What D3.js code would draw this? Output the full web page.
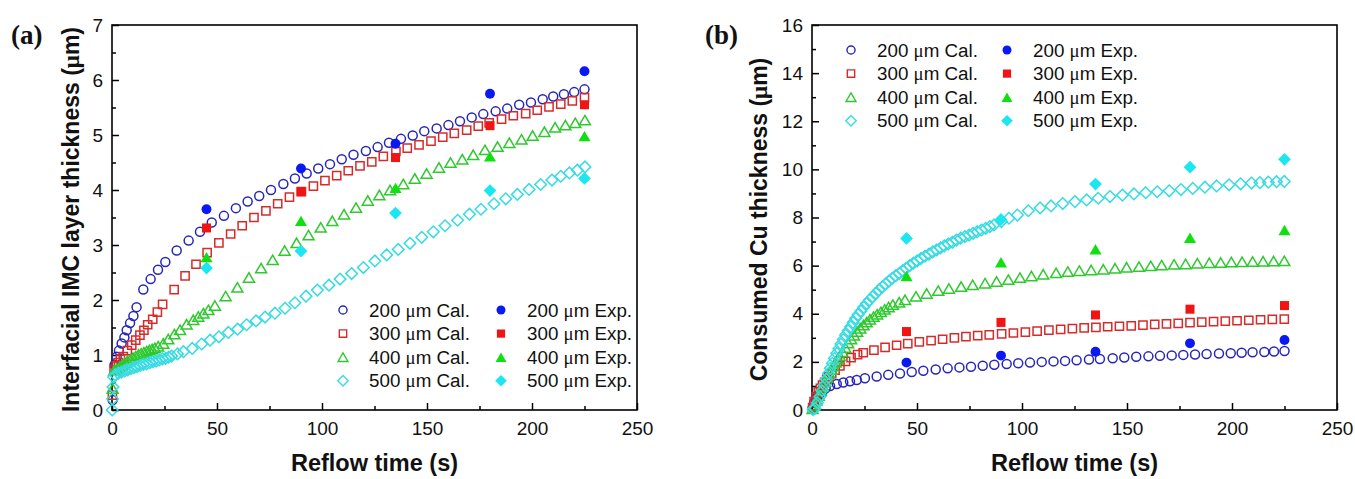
<!DOCTYPE html>
<html>
<head>
<meta charset="utf-8">
<script src="https://cdn.jsdelivr.net/npm/d3@7"></script>
<style>
  body { margin: 0; background: #fff; }
  svg { display: block; }
</style>
</head>
<body>
<svg id="fig" width="1355" height="479"></svg>
<script>
// ---- Axis ticks ----
const timeTicks = [0, 50, 100, 150, 200, 250];
const timeMinorTicks = [25, 75, 125, 175, 225];
const imcTicks = [0, 1, 2, 3, 4, 5, 6, 7];
const imcMinorTicks = [0.5, 1.5, 2.5, 3.5, 4.5, 5.5, 6.5];
const cuTicks = [0, 2, 4, 6, 8, 10, 12, 14, 16];
const cuMinorTicks = [1, 3, 5, 7, 9, 11, 13, 15];

// ---- Pad sizes ----
const padSizes = ["200", "300", "400", "500"];

// ---- Experimental reflow times (s) ----
const expTimes = [45, 90, 135, 180, 225];

// ---- (a) Interfacial IMC layer thickness (um), experiment ----
const imc200Exp = [3.65, 4.39, 4.84, 5.75, 6.16];
const imc300Exp = [3.31, 3.97, 4.59, 5.17, 5.55];
const imc400Exp = [2.78, 3.44, 4.04, 4.61, 4.98];
const imc500Exp = [2.58, 2.89, 3.58, 3.99, 4.21];

// ---- (a) Interfacial IMC layer thickness, calculation [time (s), thickness (um)] ----
const imc200Cal = [[0.3,0.18],[1.2,0.82],[2.2,0.97],[3.3,1.08],[4.6,1.21],[5.9,1.32],[7.0,1.45],[8.6,1.58],[10.2,1.71],[11.7,1.87],
  [14.9,2.19],[18.4,2.38],[21.9,2.55],[25.4,2.69],[30.8,2.9],[36.5,3.08],[41.9,3.24],[47.5,3.41],[53.3,3.53],[59,3.67],
  [64.6,3.79],[70.1,3.89],[75.7,4.0],[81.6,4.11],[87.1,4.21],[92.7,4.30],[98.2,4.39],[103.8,4.47],[109.4,4.56],[115,4.64],
  [120.9,4.71],[126.5,4.78],[131.9,4.86],[137.6,4.93],[143.2,4.99],[148.7,5.07],[154.6,5.12],[160.2,5.18],[165.7,5.25],[171.3,5.32],
  [176.8,5.38],[182.7,5.43],[188.2,5.48],[193.9,5.55],[199.5,5.59],[205.1,5.65],[210.1,5.70],[215.2,5.74],[220.1,5.78],[225,5.83]];
const imc300Cal = [[0.2,0.27],[1.0,0.72],[2.0,0.80],[3.0,0.86],[4.0,0.92],[5.4,0.97],[7.3,1.08],[9.4,1.18],[11.3,1.27],[13.3,1.36],
  [15.2,1.45],[17.0,1.55],[19.4,1.65],[21.6,1.78],[24.1,1.92],[29.6,2.19],[34.8,2.44],[40.0,2.65],[45.3,2.86],[50.9,3.04],
  [56.5,3.2],[62,3.35],[67.6,3.5],[73.3,3.62],[78.9,3.75],[84.5,3.87],[90.2,3.97],[95.9,4.07],[101.4,4.17],[107,4.26],
  [112.5,4.35],[118.1,4.44],[123.7,4.51],[129.2,4.61],[135.2,4.70],[140.6,4.76],[146.2,4.82],[151.9,4.89],[157.5,4.96],[163,5.03],
  [168.9,5.09],[174.4,5.16],[179.6,5.22],[185.5,5.29],[191.1,5.35],[197,5.39],[202.5,5.45],[208.1,5.51],[213.7,5.56],[219.2,5.62],[225,5.68]];
const imc400Cal = [[0.3,0.39],[1.0,0.72],[2.2,0.75],[3.5,0.78],[4.8,0.82],[6.1,0.86],[7.4,0.89],[8.7,0.92],[10,0.95],[11.3,0.98],
  [12.6,1.01],[13.9,1.03],[15.2,1.05],[16.5,1.07],[17.8,1.09],[19.1,1.11],[20.4,1.13],[22,1.16],[24.4,1.21],[26.8,1.29],
  [29.7,1.38],[32.4,1.46],[35.5,1.56],[38.7,1.64],[41.1,1.70],[43.5,1.76],[45.9,1.82],[49,1.90],[54.1,2.07],[59.7,2.23],
  [65.2,2.41],[71,2.58],[76.5,2.73],[82.2,2.90],[87.9,3.04],[93.6,3.18],[99.4,3.32],[104.9,3.44],[110.5,3.56],[116.2,3.68],
  [121.8,3.81],[127.3,3.91],[132.4,4.0],[138.7,4.11],[144.2,4.21],[149.8,4.30],[155.7,4.41],[161.2,4.50],[166.8,4.56],[172,4.64],
  [177.6,4.73],[183.6,4.79],[189.2,4.86],[195,4.92],[200.3,4.99],[205.9,5.06],[211,5.14],[215.9,5.18],[220.6,5.22],[225.2,5.27]];
const imc500Cal = [[0.1,0.0],[0.3,0.2],[0.5,0.42],[0.8,0.6],[1.5,0.64],[3,0.67],[4.5,0.69],[6,0.71],[7.5,0.73],[9,0.75],
  [10.5,0.77],[12,0.79],[13.5,0.81],[15,0.83],[16.5,0.84],[18,0.86],[19.5,0.88],[21,0.89],[22.5,0.91],[24,0.93],
  [25.5,0.94],[27,0.96],[28.4,0.98],[31.2,1.02],[34,1.06],[38.2,1.12],[42.7,1.20],[46.7,1.27],[50.9,1.33],[55.4,1.41],
  [59.8,1.47],[64.1,1.55],[68.6,1.62],[72.9,1.69],[77.6,1.76],[82.4,1.85],[87.1,1.95],[92.4,2.07],[97.8,2.18],[103.3,2.27],
  [108.6,2.38],[114.1,2.48],[119.7,2.59],[125.2,2.71],[130.8,2.82],[136.3,2.92],[141.9,3.03],[147.5,3.14],[153,3.24],[158.6,3.35],
  [164.6,3.45],[170.2,3.56],[175.7,3.65],[181.9,3.75],[187.5,3.84],[193,3.92],[198.6,4.01],[204.1,4.10],[209.5,4.18],[213.7,4.25],
  [217.8,4.31],[221.6,4.36],[225.2,4.42]];

// ---- (b) Consumed Cu thickness (um), experiment ----
const cu200Exp = [1.97, 2.26, 2.42, 2.77, 2.91];
const cu300Exp = [3.26, 3.64, 3.95, 4.19, 4.34];
const cu400Exp = [5.57, 6.14, 6.68, 7.16, 7.48];
const cu500Exp = [7.13, 7.92, 9.39, 10.09, 10.42];

// ---- (b) Consumed Cu thickness, calculation [time (s), thickness (um)] ----
const cu200Cal = [[0.3,0.1],[1,0.3],[1.8,0.45],[2.8,0.58],[3.8,0.69],[5.1,0.8],[6.5,0.9],[8.6,1.0],[11.8,1.08],[14.9,1.14],
  [18.1,1.19],[21.3,1.25],[25.2,1.32],[30.8,1.39],[36.3,1.46],[41.9,1.52],[47.5,1.58],[53,1.63],[58.9,1.68],[64.6,1.73],
  [70.2,1.77],[75.7,1.8],[81.3,1.84],[86.8,1.88],[92.7,1.91],[98.2,1.94],[103.8,1.97],[109.4,2.0],[115,2.02],[120.5,2.04],
  [126,2.07],[131.9,2.1],[137.1,2.12],[143.2,2.15],[148.7,2.18],[154.4,2.21],[160.2,2.23],[165.7,2.25],[171.3,2.27],[176.8,2.29],
  [182.4,2.31],[187.9,2.33],[193.8,2.35],[199.4,2.36],[204.6,2.38],[209.8,2.40],[215.4,2.41],[220,2.43],[225,2.45]];
const cu300Cal = [[0.3,0.1],[1,0.35],[2,0.55],[3,0.75],[4,0.9],[5,1.03],[6,1.15],[7,1.27],[8,1.38],[9.4,1.52],
  [11,1.66],[13.3,1.83],[16,2.02],[18.6,2.18],[21.7,2.3],[24.4,2.38],[29.5,2.49],[34.8,2.6],[40.3,2.69],[45.6,2.76],
  [51.1,2.83],[56.7,2.88],[62.2,2.94],[67.8,3.0],[73.3,3.05],[78.9,3.09],[84.4,3.12],[90.3,3.16],[95.9,3.2],[101.6,3.24],
  [107.2,3.28],[112.8,3.32],[118.4,3.35],[124,3.38],[129.6,3.41],[135.2,3.43],[140.8,3.46],[146.4,3.48],[152,3.5],[157.6,3.53],
  [163.2,3.56],[168.8,3.58],[174.4,3.6],[180,3.63],[185.6,3.65],[191.2,3.67],[196.8,3.69],[202.4,3.71],[208,3.73],[213.6,3.75],
  [219.2,3.77],[224.9,3.78]];
const cu400Cal = [[0.3,0.05],[1.2,0.2],[2.2,0.4],[3.2,0.6],[4.2,0.8],[5.2,1.0],[6.2,1.18],[7.2,1.36],[8.2,1.52],[9.2,1.68],
  [10.2,1.83],[11.2,1.98],[12.2,2.12],[13.2,2.25],[14.5,2.42],[15.8,2.6],[17.2,2.78],[18.6,2.95],[20,3.1],[21.5,3.26],
  [23,3.4],[24.5,3.53],[26,3.65],[27.6,3.77],[29.3,3.88],[31,3.98],[32.8,4.08],[34.6,4.18],[36.5,4.28],[38.5,4.38],
  [41.5,4.48],[44.3,4.58],[49.5,4.72],[54.6,4.84],[60.1,4.96],[65.2,5.05],[71,5.13],[76.5,5.2],[82.4,5.27],[87.9,5.34],
  [93.5,5.42],[99,5.5],[104.5,5.57],[110.1,5.64],[116.2,5.7],[121.8,5.75],[127.3,5.79],[132.9,5.82],[138.7,5.85],[144.3,5.89],
  [149.8,5.93],[155.7,5.96],[161.3,5.99],[166.5,6.02],[172.4,6.05],[177.9,6.07],[183.5,6.1],[189.2,6.12],[194.6,6.13],[199.7,6.15],
  [204.8,6.16],[209.8,6.17],[214.8,6.18],[219.8,6.19],[224.9,6.2]];
const cu500Cal = [[0.5,0.02],[1.4,0.07],[2.6,0.3],[3.8,0.55],[4.8,0.8],[5.9,1.04],[6.8,1.28],[7.8,1.52],[8.7,1.73],[9.7,1.94],
  [10.7,2.15],[11.8,2.36],[12.8,2.55],[13.8,2.74],[14.9,2.93],[16,3.12],[17.2,3.29],[18.4,3.46],[19.6,3.64],[20.8,3.81],
  [22,3.96],[23.3,4.11],[24.6,4.27],[26,4.43],[27.4,4.57],[28.9,4.71],[30.4,4.85],[31.9,4.99],[33.5,5.12],[35.1,5.24],
  [36.6,5.36],[38.2,5.47],[39.9,5.58],[41.6,5.68],[43.2,5.79],[44.8,5.89],[46.5,6.0],[48.3,6.1],[50.1,6.2],[51.9,6.3],
  [53.8,6.39],[55.7,6.48],[57.5,6.57],[59.4,6.65],[61.2,6.74],[63,6.82],[64.9,6.9],[66.8,6.97],[68.8,7.06],[70.8,7.14],
  [72.8,7.21],[74.8,7.27],[76.7,7.34],[78.7,7.41],[80.7,7.48],[82.7,7.55],[84.7,7.62],[86.7,7.69],[90.2,7.83],[93.8,7.97],
  [97.8,8.1],[103,8.28],[108.6,8.4],[113.8,8.48],[119.4,8.58],[125.2,8.66],[130.8,8.73],[136.3,8.8],[141.9,8.87],[147.8,8.93],
  [153.3,8.98],[158.9,9.03],[164.4,9.07],[170.1,9.11],[175.7,9.16],[181.3,9.21],[187.1,9.26],[192.7,9.31],[198.6,9.36],[204.1,9.4],
  [209.3,9.43],[213.3,9.45],[217.3,9.47],[221.2,9.49],[224.9,9.5]];

// ---- Styling ----
const SANS = "'Liberation Sans', Arial, Helvetica, sans-serif";
const SERIF = "'Liberation Serif', 'Times New Roman', serif";
const hollowColors = ["#2626b8", "#d62b2b", "#2fc92f", "#38dbe2"];
const solidColors = ["#0a18f2", "#f01414", "#10e010", "#1ce6f0"];
const shapeKinds = ["circle", "square", "triangle", "diamond"];

// Marker outline for a given shape; s = scale factor (1 = open marker size)
function markerPath(kind, s) {
  const p = d3.path();
  if (kind === "circle") {
    const r = 4.5 * s; p.moveTo(r, 0); p.arc(0, 0, r, 0, 2 * Math.PI);
  } else if (kind === "square") {
    const h = 4.1 * s; p.rect(-h, -h, 2 * h, 2 * h);
  } else if (kind === "triangle") {
    const w = 5.5 * s, h = 4.7 * s;
    p.moveTo(0, -h); p.lineTo(w, h); p.lineTo(-w, h); p.closePath();
  } else {
    const d = 5.8 * s;
    p.moveTo(0, -d); p.lineTo(d, 0); p.lineTo(0, d); p.lineTo(-d, 0); p.closePath();
  }
  return p.toString();
}

const svg = d3.select("#fig");
svg.append("rect").attr("width", 1355).attr("height", 479).attr("fill", "#fff");

function umText(sel, before, after) {
  sel.append("tspan").text(before);
  sel.append("tspan").attr("font-family", SERIF).text("\u03bc");
  sel.append("tspan").text(after);
}

function drawPanel(cfg) {
  const x = d3.scaleLinear().domain([0, 250]).range([cfg.left, cfg.right]);
  const y = d3.scaleLinear().domain([0, cfg.yMax]).range([cfg.bottom, cfg.top]);
  const g = svg.append("g");

  const styleAxis = (ax) => {
    ax.select(".domain").remove();
    ax.selectAll(".tick line").attr("stroke", "#000").attr("stroke-width", 1.5);
    ax.selectAll(".tick text").attr("font-family", SANS).attr("font-size", "19px").attr("fill", "#111");
  };

  // bottom axis: major + minor ticks pointing inward
  g.append("g").attr("transform", `translate(0,${cfg.bottom})`)
    .call(d3.axisBottom(x).tickValues(timeMinorTicks).tickSizeInner(-4).tickSizeOuter(0).tickFormat(""))
    .call(styleAxis);
  g.append("g").attr("transform", `translate(0,${cfg.bottom})`)
    .call(d3.axisBottom(x).tickValues(timeTicks).tickSizeInner(-7).tickSizeOuter(0).tickPadding(11.5).tickFormat(d3.format("d")))
    .call(styleAxis);

  // left axis
  g.append("g").attr("transform", `translate(${cfg.left},0)`)
    .call(d3.axisLeft(y).tickValues(cfg.yMinor).tickSizeInner(-4).tickSizeOuter(0).tickFormat(""))
    .call(styleAxis);
  g.append("g").attr("transform", `translate(${cfg.left},0)`)
    .call(d3.axisLeft(y).tickValues(cfg.yMajor).tickSizeInner(-7).tickSizeOuter(0).tickPadding(9).tickFormat(d3.format("d")))
    .call(styleAxis);

  // frame
  g.append("rect")
    .attr("x", cfg.left).attr("y", cfg.top)
    .attr("width", cfg.right - cfg.left).attr("height", cfg.bottom - cfg.top)
    .attr("fill", "none").attr("stroke", "#000").attr("stroke-width", 1.6);

  // calculated series (open markers)
  cfg.cal.forEach((series, i) => {
    g.append("g").selectAll("path").data(series).join("path")
      .attr("d", markerPath(shapeKinds[i], 1))
      .attr("transform", d => `translate(${x(d[0])},${y(d[1])})`)
      .attr("fill", "none").attr("stroke", hollowColors[i]).attr("stroke-width", 1.5);
  });

  // experimental series (filled markers)
  cfg.exp.forEach((series, i) => {
    g.append("g").selectAll("path").data(series).join("path")
      .attr("d", markerPath(shapeKinds[i], 1.1))
      .attr("transform", (d, j) => `translate(${x(expTimes[j])},${y(d)})`)
      .attr("fill", solidColors[i]).attr("stroke", "none");
  });

  // legend
  padSizes.forEach((size, i) => {
    const ry = cfg.legY + i * 23.6;
    g.append("path").attr("d", markerPath(shapeKinds[i], 0.9))
      .attr("transform", `translate(${cfg.legCalX},${ry})`)
      .attr("fill", "none").attr("stroke", hollowColors[i]).attr("stroke-width", 1.4);
    g.append("text").attr("x", cfg.legCalX + 26).attr("y", ry + 6.5)
      .attr("font-family", SANS).attr("font-size", "18.8px").attr("fill", "#111")
      .call(umText, `${size} `, "m Cal.");
    g.append("path").attr("d", markerPath(shapeKinds[i], 1.0))
      .attr("transform", `translate(${cfg.legExpX},${ry})`)
      .attr("fill", solidColors[i]);
    g.append("text").attr("x", cfg.legExpX + 26).attr("y", ry + 6.5)
      .attr("font-family", SANS).attr("font-size", "18.8px").attr("fill", "#111")
      .call(umText, `${size} `, "m Exp.");
  });

  // axis titles
  g.append("text")
    .attr("x", (cfg.left + cfg.right) / 2).attr("y", 471)
    .attr("text-anchor", "middle")
    .attr("font-family", SANS).attr("font-size", "23.5px").attr("font-weight", "bold").attr("fill", "#111")
    .text("Reflow time (s)");
  g.append("text")
    .attr("transform", `translate(${cfg.yTitleX},${(cfg.top + cfg.bottom) / 2 + 2}) rotate(-90)`)
    .attr("text-anchor", "middle")
    .attr("font-family", SANS).attr("font-size", "23px").attr("font-weight", "bold").attr("fill", "#111")
    .call(umText, cfg.yTitle, "m)");

  // panel tag
  g.append("text").attr("x", cfg.tagX).attr("y", 44)
    .attr("font-family", SERIF).attr("font-size", "27px").attr("font-weight", "bold").attr("fill", "#111")
    .text(cfg.tag);
}

drawPanel({
  left: 112, right: 637, top: 25, bottom: 410,
  yMax: 7, yMajor: imcTicks, yMinor: imcMinorTicks,
  cal: [imc200Cal, imc300Cal, imc400Cal, imc500Cal],
  exp: [imc200Exp, imc300Exp, imc400Exp, imc500Exp],
  legY: 310, legCalX: 343, legExpX: 501,
  yTitle: "Interfacial IMC layer thickness (", yTitleX: 79,
  tag: "(a)", tagX: 11
});

drawPanel({
  left: 812, right: 1337, top: 25, bottom: 410,
  yMax: 16, yMajor: cuTicks, yMinor: cuMinorTicks,
  cal: [cu200Cal, cu300Cal, cu400Cal, cu500Cal],
  exp: [cu200Exp, cu300Exp, cu400Exp, cu500Exp],
  legY: 50, legCalX: 851, legExpX: 1007,
  yTitle: "Consumed Cu thickness (", yTitleX: 767,
  tag: "(b)", tagX: 705
});
</script>
</body>
</html>
